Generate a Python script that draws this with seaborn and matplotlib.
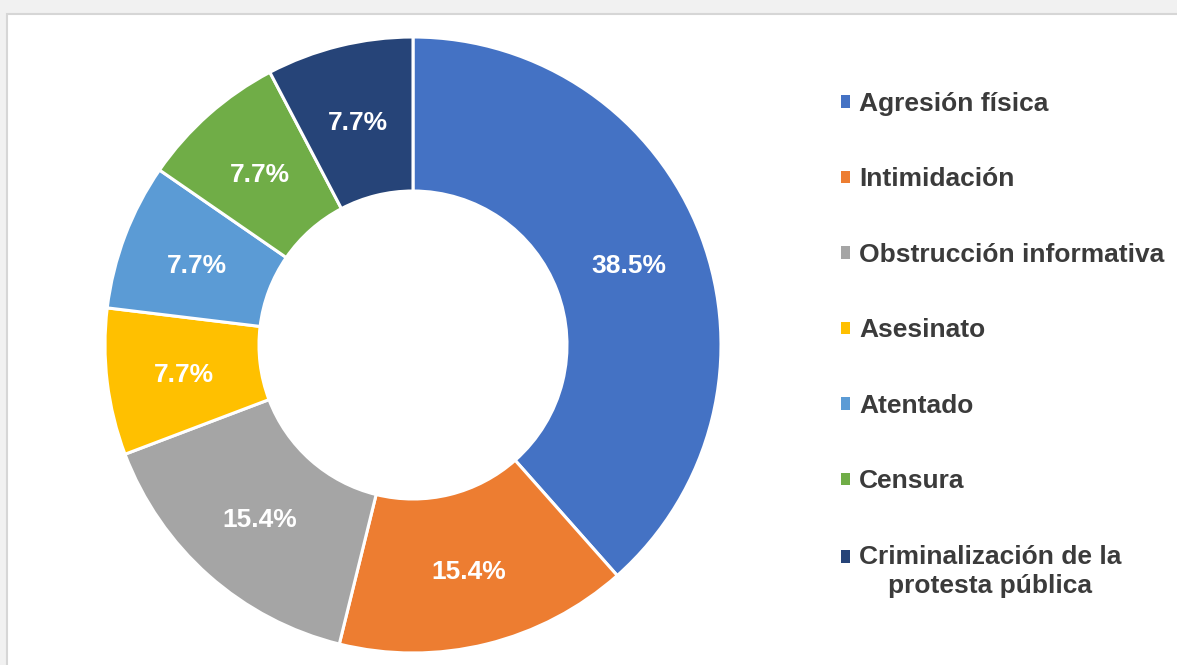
import matplotlib
matplotlib.use("Agg")
import matplotlib.pyplot as plt
from matplotlib.patches import Rectangle
from matplotlib.legend_handler import HandlerPatch
import seaborn as sns

categories = ["Agresión física", "Intimidación", "Obstrucción informativa", "Asesinato",
              "Atentado", "Censura", "Criminalización de la\nprotesta pública"]
shares = [38.5, 15.4, 15.4, 7.7, 7.7, 7.7, 7.7]
colors = ["#4472C4", "#ED7D31", "#A5A5A5", "#FFC000", "#5B9BD5", "#70AD47", "#264478"]

sns.set_theme(style="white")
plt.rcParams["font.family"] = ["Liberation Sans", "DejaVu Sans"]

W, H = 1177, 665
fig = plt.figure(figsize=(W / 100, H / 100), dpi=100)
fig.patch.set_facecolor("#f1f1f1")
# white chart area
fig.patches.append(Rectangle((7 / W, -0.1), 1.2, 1.1 - 14 / H, transform=fig.transFigure,
                             facecolor="white", edgecolor="#d6d6d6", linewidth=1.5, zorder=-5))

cx, cy, r = 413, H - 345, 308
ax = fig.add_axes([(cx - r) / W, (cy - r) / H, 2 * r / W, 2 * r / H])
ax.set_facecolor("none")
ax.set_zorder(2)

wedges, _, autotexts = ax.pie(shares, colors=colors, startangle=90, counterclock=False,
                              autopct="%.1f%%", pctdistance=0.75, radius=1,
                              wedgeprops=dict(width=0.5, edgecolor="white", linewidth=2.2),
                              textprops=dict(color="white", fontsize=19, fontweight="bold"))
for t in autotexts:
    t.set_verticalalignment("center_baseline")
ax.set_xlim(-1, 1)
ax.set_ylim(-1, 1)
ax.set_aspect("equal")
ax.axis("off")


def top_square(legend, orig_handle, xdescent, ydescent, width, height, fontsize):
    # keep the marker on the first line of a two-line label
    return Rectangle((-xdescent, -ydescent + 10.8), width, height)


handles = [Rectangle((0, 0), 1, 1, facecolor=c, edgecolor="none") for c in colors]
handler_map = {handles[-1]: HandlerPatch(patch_func=top_square)}
leg = fig.legend(handles, categories, loc="upper left", bbox_to_anchor=(841 / W, 1 - 92 / H),
                 frameon=False, fontsize=19, labelspacing=1.95, handlelength=0.34,
                 handleheight=0.34, handletextpad=0.34, borderpad=0, borderaxespad=0,
                 handler_map=handler_map)
leg.set_zorder(3)
for t in leg.get_texts():
    t.set_fontweight("bold")
    t.set_color("#3b3b3b")
    t.set_multialignment("center")
    t.set_linespacing(1.3)

fig.savefig("out.png", dpi=100)
